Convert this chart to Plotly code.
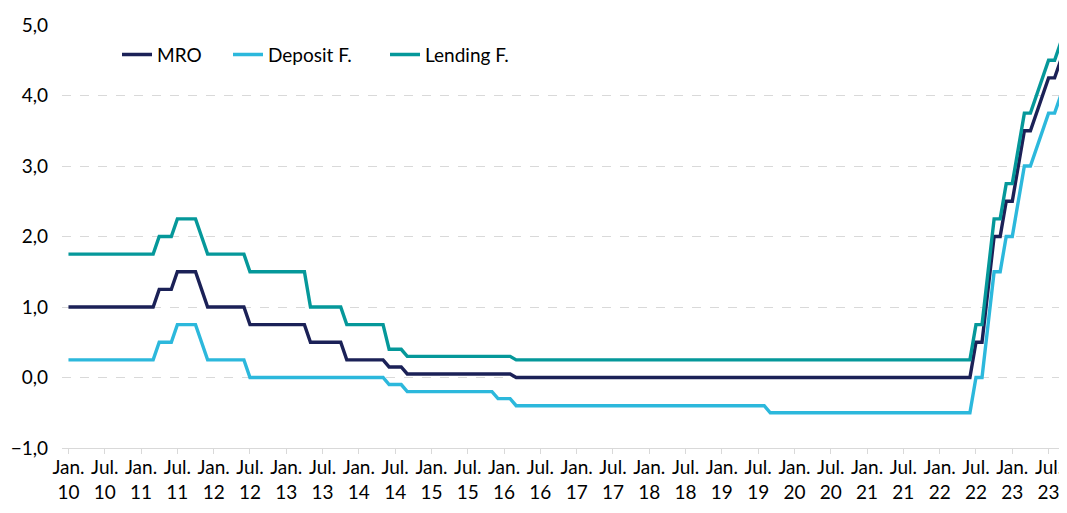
import plotly.graph_objects as go

# Monthly data, Jan 2010 .. Sep 2023 (ECB key rates, %)
mro = [
    # 2010
    1.00, 1.00, 1.00, 1.00, 1.00, 1.00, 1.00, 1.00, 1.00, 1.00, 1.00, 1.00,
    # 2011
    1.00, 1.00, 1.00, 1.25, 1.25, 1.25, 1.50, 1.50, 1.50, 1.50, 1.25, 1.00,
    # 2012
    1.00, 1.00, 1.00, 1.00, 1.00, 1.00, 0.75, 0.75, 0.75, 0.75, 0.75, 0.75,
    # 2013
    0.75, 0.75, 0.75, 0.75, 0.50, 0.50, 0.50, 0.50, 0.50, 0.50, 0.25, 0.25,
    # 2014
    0.25, 0.25, 0.25, 0.25, 0.25, 0.15, 0.15, 0.15, 0.05, 0.05, 0.05, 0.05,
    # 2015
    0.05, 0.05, 0.05, 0.05, 0.05, 0.05, 0.05, 0.05, 0.05, 0.05, 0.05, 0.05,
    # 2016
    0.05, 0.05, 0.00, 0.00, 0.00, 0.00, 0.00, 0.00, 0.00, 0.00, 0.00, 0.00,
    # 2017
    0.00, 0.00, 0.00, 0.00, 0.00, 0.00, 0.00, 0.00, 0.00, 0.00, 0.00, 0.00,
    # 2018
    0.00, 0.00, 0.00, 0.00, 0.00, 0.00, 0.00, 0.00, 0.00, 0.00, 0.00, 0.00,
    # 2019
    0.00, 0.00, 0.00, 0.00, 0.00, 0.00, 0.00, 0.00, 0.00, 0.00, 0.00, 0.00,
    # 2020
    0.00, 0.00, 0.00, 0.00, 0.00, 0.00, 0.00, 0.00, 0.00, 0.00, 0.00, 0.00,
    # 2021
    0.00, 0.00, 0.00, 0.00, 0.00, 0.00, 0.00, 0.00, 0.00, 0.00, 0.00, 0.00,
    # 2022
    0.00, 0.00, 0.00, 0.00, 0.00, 0.00, 0.50, 0.50, 1.25, 2.00, 2.00, 2.50,
    # 2023 (Jan..Sep)
    2.50, 3.00, 3.50, 3.50, 3.75, 4.00, 4.25, 4.25, 4.50,
]

deposit = [
    # 2010
    0.25, 0.25, 0.25, 0.25, 0.25, 0.25, 0.25, 0.25, 0.25, 0.25, 0.25, 0.25,
    # 2011
    0.25, 0.25, 0.25, 0.50, 0.50, 0.50, 0.75, 0.75, 0.75, 0.75, 0.50, 0.25,
    # 2012
    0.25, 0.25, 0.25, 0.25, 0.25, 0.25, 0.00, 0.00, 0.00, 0.00, 0.00, 0.00,
    # 2013
    0.00, 0.00, 0.00, 0.00, 0.00, 0.00, 0.00, 0.00, 0.00, 0.00, 0.00, 0.00,
    # 2014
    0.00, 0.00, 0.00, 0.00, 0.00, -0.10, -0.10, -0.10, -0.20, -0.20, -0.20, -0.20,
    # 2015
    -0.20, -0.20, -0.20, -0.20, -0.20, -0.20, -0.20, -0.20, -0.20, -0.20, -0.20, -0.30,
    # 2016
    -0.30, -0.30, -0.40, -0.40, -0.40, -0.40, -0.40, -0.40, -0.40, -0.40, -0.40, -0.40,
    # 2017
    -0.40, -0.40, -0.40, -0.40, -0.40, -0.40, -0.40, -0.40, -0.40, -0.40, -0.40, -0.40,
    # 2018
    -0.40, -0.40, -0.40, -0.40, -0.40, -0.40, -0.40, -0.40, -0.40, -0.40, -0.40, -0.40,
    # 2019
    -0.40, -0.40, -0.40, -0.40, -0.40, -0.40, -0.40, -0.40, -0.50, -0.50, -0.50, -0.50,
    # 2020
    -0.50, -0.50, -0.50, -0.50, -0.50, -0.50, -0.50, -0.50, -0.50, -0.50, -0.50, -0.50,
    # 2021
    -0.50, -0.50, -0.50, -0.50, -0.50, -0.50, -0.50, -0.50, -0.50, -0.50, -0.50, -0.50,
    # 2022
    -0.50, -0.50, -0.50, -0.50, -0.50, -0.50, 0.00, 0.00, 0.75, 1.50, 1.50, 2.00,
    # 2023 (Jan..Sep)
    2.00, 2.50, 3.00, 3.00, 3.25, 3.50, 3.75, 3.75, 4.00,
]

lending = [
    # 2010
    1.75, 1.75, 1.75, 1.75, 1.75, 1.75, 1.75, 1.75, 1.75, 1.75, 1.75, 1.75,
    # 2011
    1.75, 1.75, 1.75, 2.00, 2.00, 2.00, 2.25, 2.25, 2.25, 2.25, 2.00, 1.75,
    # 2012
    1.75, 1.75, 1.75, 1.75, 1.75, 1.75, 1.50, 1.50, 1.50, 1.50, 1.50, 1.50,
    # 2013
    1.50, 1.50, 1.50, 1.50, 1.00, 1.00, 1.00, 1.00, 1.00, 1.00, 0.75, 0.75,
    # 2014
    0.75, 0.75, 0.75, 0.75, 0.75, 0.40, 0.40, 0.40, 0.30, 0.30, 0.30, 0.30,
    # 2015
    0.30, 0.30, 0.30, 0.30, 0.30, 0.30, 0.30, 0.30, 0.30, 0.30, 0.30, 0.30,
    # 2016
    0.30, 0.30, 0.25, 0.25, 0.25, 0.25, 0.25, 0.25, 0.25, 0.25, 0.25, 0.25,
    # 2017
    0.25, 0.25, 0.25, 0.25, 0.25, 0.25, 0.25, 0.25, 0.25, 0.25, 0.25, 0.25,
    # 2018
    0.25, 0.25, 0.25, 0.25, 0.25, 0.25, 0.25, 0.25, 0.25, 0.25, 0.25, 0.25,
    # 2019
    0.25, 0.25, 0.25, 0.25, 0.25, 0.25, 0.25, 0.25, 0.25, 0.25, 0.25, 0.25,
    # 2020
    0.25, 0.25, 0.25, 0.25, 0.25, 0.25, 0.25, 0.25, 0.25, 0.25, 0.25, 0.25,
    # 2021
    0.25, 0.25, 0.25, 0.25, 0.25, 0.25, 0.25, 0.25, 0.25, 0.25, 0.25, 0.25,
    # 2022
    0.25, 0.25, 0.25, 0.25, 0.25, 0.25, 0.75, 0.75, 1.50, 2.25, 2.25, 2.75,
    # 2023 (Jan..Sep)
    2.75, 3.25, 3.75, 3.75, 4.00, 4.25, 4.50, 4.50, 4.75,
]

# tick labels every 6 months (Jan./Jul.)
tick_months = ["Jan.", "Jul."]
tick_years = ["10", "11", "12", "13", "14", "15", "16", "17", "18", "19", "20", "21", "22", "23"]

month_index = list(range(len(mro)))
tickvals = []
ticktext = []
for yi, yr in enumerate(tick_years):
    for mi, mname in enumerate(tick_months):
        tickvals.append(yi * 12 + mi * 6)
        ticktext.append(f"{mname}<br>{yr}")

series_names = ["MRO", "Deposit F.", "Lending F."]
series_values = [mro, deposit, lending]
series_colors = ["#1b2157", "#2cb8dc", "#05989a"]
legend_widths = [66, 112, 100]

FONT = "Lato, Carlito, Calibri, sans-serif"
FS = 19

fig = go.Figure()
for name, vals, color, lw in zip(series_names, series_values, series_colors, legend_widths):
    fig.add_trace(go.Scatter(
        x=month_index, y=vals, mode="lines", name=name,
        line=dict(color=color, width=3.4),
        legendwidth=lw,
    ))

# page body has an 8px margin, so the figure is sized/offset to compensate
fig.update_layout(
    width=1059, height=505,
    margin=dict(l=54, r=3, t=17, b=65, autoexpand=False),
    paper_bgcolor="white", plot_bgcolor="white",
    separators=",.",
    font=dict(family=FONT, size=FS, color="#000000"),
    showlegend=True,
    legend=dict(
        orientation="h", x=0.0549, y=0.93, xanchor="left", yanchor="middle",
        bgcolor="rgba(0,0,0,0)", font=dict(size=FS, family=FONT),
        itemwidth=30, tracegroupgap=0,
    ),
    xaxis=dict(
        range=[-1.07, 164.55],
        tickmode="array", tickvals=tickvals, ticktext=ticktext,
        tickangle=0, automargin=False,
        showgrid=False, zeroline=False,
        showline=True, linecolor="#d9d9d9", linewidth=1,
        ticks="outside", ticklen=5, tickcolor="#d9d9d9", tickwidth=1,
        ticklabelstandoff=-3, ticklabeloverflow="allow",
        tickfont=dict(size=FS, family=FONT),
        fixedrange=True,
    ),
    yaxis=dict(
        range=[-1, 5], tickmode="array",
        tickvals=[-1, 0, 1, 2, 3, 4, 5],
        tickformat=".1f", automargin=False,
        showgrid=True, gridcolor="#d9d9d9", griddash="dash", gridwidth=1,
        zeroline=False, showline=False, ticks="",
        ticklabelstandoff=13,
        tickfont=dict(size=FS, family=FONT),
        fixedrange=True,
    ),
)

fig.write_html("out.html")
